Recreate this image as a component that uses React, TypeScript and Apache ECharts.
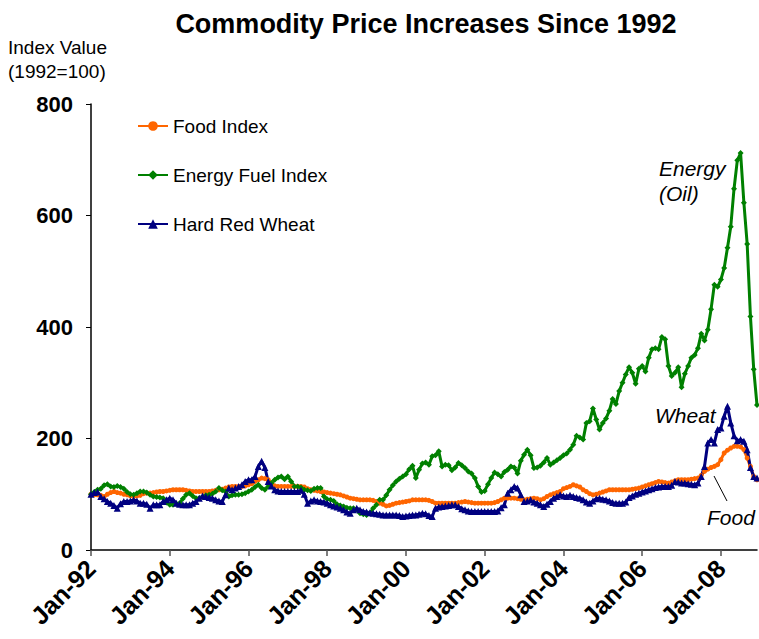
import React, { useEffect, useRef } from "react";
import * as echarts from "echarts";

const monthNames = ["Jan", "Feb", "Mar", "Apr", "May", "Jun", "Jul", "Aug", "Sep", "Oct", "Nov", "Dec"];
const yearNames = ["92", "93", "94", "95", "96", "97", "98", "99", "00", "01", "02", "03", "04", "05", "06", "07", "08"];
const categories: string[] = [];
for (const y of yearNames) for (const m of monthNames) categories.push(`${m}-${y}`);

const yTicks = [0, 200, 400, 600, 800];

const foodIndex = [
  100, 99, 99, 98, 96, 100, 103, 105, 103, 102, 100, 99,
  97, 96, 97, 98, 101, 102, 102, 103, 104, 105, 105, 106,
  107, 108, 108, 108, 108, 107, 106, 105, 105, 105, 105, 105,
  105, 106, 107, 108, 109, 111, 113, 114, 114, 114, 114, 115,
  117, 119, 123, 126, 129, 128, 126, 120, 115, 114, 114, 114,
  114, 114, 114, 114, 114, 113, 110, 108, 107, 106, 105, 104,
  103, 102, 101, 100, 99, 97, 95, 93, 92, 91, 90, 90,
  90, 90, 89, 87, 84, 82, 79, 80, 82, 84, 85, 86,
  87, 88, 90, 90, 90, 90, 90, 89, 87, 84, 84, 84,
  84, 84, 84, 84, 85, 86, 87, 86, 85, 84, 84, 84,
  84, 84, 84, 85, 87, 90, 93, 93, 93, 93, 92, 91,
  90, 91, 92, 93, 92, 90, 92, 96, 99, 101, 103, 105,
  110, 112, 114, 117, 115, 113, 108, 105, 101, 99, 100, 102,
  104, 106, 108, 108, 108, 108, 108, 108, 108, 109, 110, 111,
  113, 115, 117, 119, 121, 123, 122, 121, 120, 122, 124, 126,
  126, 126, 126, 127, 128, 129, 134, 141, 145, 148, 150, 153,
  162, 174, 179, 183, 186, 186, 185, 180, 165, 150, 132, 126,
];

const energyIndex = [
  100, 104, 108, 110, 116, 118, 114, 113, 115, 113, 110, 104,
  100, 99, 102, 105, 105, 103, 99, 96, 95, 94, 93, 85,
  81, 81, 83, 84, 92, 99, 102, 97, 93, 93, 95, 98,
  99, 101, 105, 111, 107, 105, 96, 98, 99, 99, 100, 102,
  105, 108, 113, 117, 111, 108, 114, 120, 126, 130, 132, 127,
  132, 123, 114, 114, 112, 108, 107, 106, 110, 111, 111, 96,
  91, 90, 88, 82, 80, 78, 76, 75, 75, 72, 66, 64,
  63, 66, 75, 81, 90, 90, 98, 108, 116, 123, 128, 132,
  136, 145, 151, 129, 144, 155, 157, 153, 168, 170, 177, 150,
  153, 152, 143, 148, 156, 152, 147, 141, 137, 129, 114, 104,
  106, 118, 129, 139, 136, 132, 140, 144, 150, 148, 137, 160,
  171, 180, 170, 147, 148, 151, 157, 165, 153, 157, 161, 165,
  170, 173, 180, 189, 205, 202, 198, 228, 231, 254, 234, 216,
  228, 236, 250, 271, 262, 285, 300, 315, 328, 318, 298, 325,
  330, 320, 345, 360, 362, 360, 382, 378, 330, 312, 318, 328,
  292, 316, 330, 345, 350, 362, 388, 376, 395, 432, 476, 472,
  485, 506, 542, 580, 648, 699, 712, 623, 549, 419, 324, 260,
];

const hardRedWheat = [
  100, 103, 104, 96, 92, 87, 84, 80, 75, 83, 87, 87,
  88, 90, 88, 84, 84, 82, 75, 81, 81, 81, 87, 90,
  93, 90, 84, 82, 81, 81, 81, 84, 87, 93, 97, 96,
  94, 93, 90, 88, 87, 99, 111, 108, 111, 114, 117, 123,
  126, 126, 132, 150, 159, 148, 123, 115, 108, 106, 105, 105,
  105, 105, 105, 105, 107, 100, 84, 88, 90, 88, 87, 86,
  84, 81, 79, 77, 75, 72, 68, 66, 72, 75, 72, 69,
  68, 67, 66, 65, 64, 63, 63, 63, 63, 63, 62, 60,
  61, 62, 63, 63, 64, 66, 65, 62, 60, 75, 77, 78,
  79, 80, 81, 81, 78, 74, 72, 70, 69, 69, 69, 69,
  69, 69, 69, 69, 70, 76, 81, 102, 108, 114, 111, 99,
  87, 88, 90, 86, 84, 81, 78, 82, 87, 93, 96, 99,
  97, 96, 98, 96, 94, 93, 90, 86, 84, 88, 92, 93,
  91, 90, 88, 85, 84, 84, 84, 86, 94, 97, 100, 102,
  104, 106, 108, 110, 112, 113, 114, 114, 114, 116, 123, 122,
  120, 120, 119, 118, 117, 120, 132, 150, 192, 198, 192, 216,
  219, 240, 258, 228, 205, 196, 198, 195, 180, 148, 132, 129,
];

const FONT = "'Liberation Sans', Arial, Helvetica, sans-serif";

export default function App() {
  const ref = useRef<HTMLDivElement>(null);
  useEffect(() => {
    document.body.style.margin = "0";
    const chart = echarts.init(ref.current!, null, { renderer: "svg" });
    chart.setOption({
      animation: false,
      backgroundColor: "#ffffff",
      textStyle: { fontFamily: FONT },
      grid: { left: 91, right: 2, top: 104, bottom: 89, containLabel: false },
      legend: {
        orient: "vertical",
        left: 137,
        top: 116,
        padding: 0,
        itemWidth: 30,
        itemHeight: 12,
        itemGap: 29,
        textStyle: { fontSize: 19, color: "#000", fontFamily: FONT, lineHeight: 20 },
        data: ["Food Index", "Energy Fuel Index", "Hard Red Wheat"],
      },
      xAxis: {
        type: "category",
        data: categories,
        boundaryGap: false,
        axisLine: { lineStyle: { color: "#000", width: 1.5 } },
        axisTick: { show: true, interval: 23, length: 6, lineStyle: { color: "#555", width: 1.5 } },
        axisLabel: {
          interval: 23,
          rotate: 45,
          margin: 14,
          fontSize: 25,
          fontWeight: "bold",
          color: "#000",
          fontFamily: FONT,
        },
        splitLine: { show: false },
      },
      yAxis: {
        type: "value",
        min: yTicks[0],
        max: yTicks[yTicks.length - 1],
        interval: 200,
        axisLine: { show: true, lineStyle: { color: "#000", width: 1.5 } },
        axisTick: { show: true, length: 5, lineStyle: { color: "#000" } },
        axisLabel: { fontSize: 22, fontWeight: "bold", color: "#000", margin: 18, fontFamily: FONT },
        splitLine: { show: false },
      },
      series: [
        {
          name: "Food Index",
          type: "line",
          data: foodIndex,
          symbol: "circle",
          symbolSize: 5,
          showAllSymbol: true,
          lineStyle: { color: "#FF6600", width: 3 },
          itemStyle: { color: "#FF6600" },
        },
        {
          name: "Energy Fuel Index",
          type: "line",
          data: energyIndex,
          symbol: "diamond",
          symbolSize: 6,
          showAllSymbol: true,
          lineStyle: { color: "#008000", width: 3 },
          itemStyle: { color: "#008000" },
        },
        {
          name: "Hard Red Wheat",
          type: "line",
          data: hardRedWheat,
          symbol: "triangle",
          symbolSize: 7,
          showAllSymbol: true,
          lineStyle: { color: "#000080", width: 3 },
          itemStyle: { color: "#000080" },
        },
      ],
      graphic: [
        {
          type: "text",
          x: 426,
          y: 24,
          style: {
            text: "Commodity Price Increases Since 1992",
            font: `bold 27px ${FONT}`,
            fill: "#000",
            textAlign: "center",
            textVerticalAlign: "middle",
          },
        },
        {
          type: "text",
          x: 8,
          y: 47,
          style: { text: "Index Value", font: `19px ${FONT}`, fill: "#000", textVerticalAlign: "middle" },
        },
        {
          type: "text",
          x: 8,
          y: 71,
          style: { text: "(1992=100)", font: `19px ${FONT}`, fill: "#000", textVerticalAlign: "middle" },
        },
        {
          type: "text",
          x: 659,
          y: 168,
          style: { text: "Energy", font: `italic 21px ${FONT}`, fill: "#000", textVerticalAlign: "middle" },
        },
        {
          type: "text",
          x: 659,
          y: 193,
          style: { text: "(Oil)", font: `italic 21px ${FONT}`, fill: "#000", textVerticalAlign: "middle" },
        },
        {
          type: "text",
          x: 655,
          y: 415,
          style: { text: "Wheat", font: `italic 21px ${FONT}`, fill: "#000", textVerticalAlign: "middle" },
        },
        {
          type: "text",
          x: 707,
          y: 517,
          style: { text: "Food", font: `italic 21px ${FONT}`, fill: "#000", textVerticalAlign: "middle" },
        },
        {
          type: "line",
          shape: { x1: 714, y1: 476, x2: 727, y2: 501 },
          style: { stroke: "#000", lineWidth: 1 },
        },
      ],
    });
    return () => chart.dispose();
  }, []);
  return <div ref={ref} style={{ width: 759, height: 639 }} />;
}
